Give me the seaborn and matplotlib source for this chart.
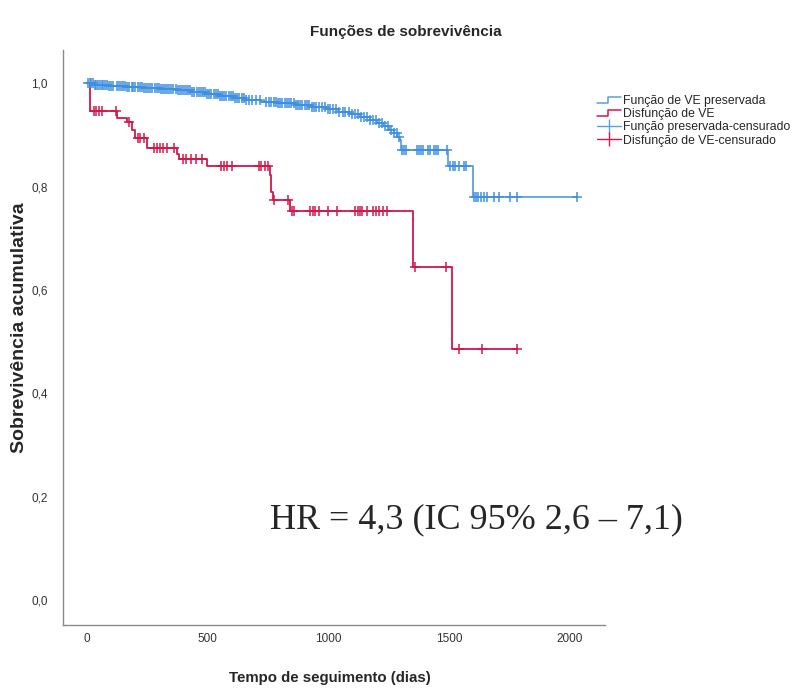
import numpy as np
import pandas as pd
import matplotlib
matplotlib.use("Agg")
import matplotlib.pyplot as plt
import seaborn as sns
from matplotlib.lines import Line2D
from matplotlib.legend_handler import HandlerBase

# ---------------- data ----------------
title = "Funções de sobrevivência"
xlabel = "Tempo de seguimento (dias)"
ylabel = "Sobrevivência acumulativa"
legend_labels = ["Função de VE preservada", "Disfunção de VE",
                 "Função preservada-censurado", "Disfunção de VE-censurado"]
hr_text = "HR = 4,3 (IC 95% 2,6 – 7,1)"

x_ticks = [0, 500, 1000, 1500, 2000]
y_ticks = [0.0, 0.2, 0.4, 0.6, 0.8, 1.0]
y_tick_labels = ["0,0", "0,2", "0,4", "0,6", "0,8", "1,0"]

# preserved LV function: step times and survival after each step
blue_t = [0, 30, 90, 160, 230, 300, 370, 430, 490, 550, 610, 660, 720, 790, 860,
          930, 990, 1040, 1090, 1130, 1170, 1200, 1225, 1250, 1270, 1285, 1295,
          1300, 1495, 1598]
blue_s = [1.0, 0.997, 0.995, 0.993, 0.991, 0.989, 0.986, 0.983, 0.979, 0.975,
          0.971, 0.967, 0.964, 0.961, 0.958, 0.954, 0.950, 0.945, 0.940, 0.935,
          0.929, 0.923, 0.917, 0.910, 0.903, 0.896, 0.889, 0.870, 0.840, 0.780]
blue_cens = [5, 12, 18, 25, 31, 38, 44, 52, 60, 66, 75, 83, 92, 100, 108, 122, 130,
             141, 150, 158, 166, 175, 184, 192, 200, 210, 218, 226, 235, 243, 252,
             262, 270, 279, 288, 296, 305, 314, 322, 331, 340, 348, 357, 366, 375,
             384, 392, 400, 410, 418, 427, 436, 444, 453, 462, 470, 480, 489, 497,
             506, 515, 524, 533, 541, 550, 560, 568, 577, 586, 595, 604, 612, 622,
             630, 640, 650, 660, 672, 684, 700, 716, 742, 752, 763, 772, 781, 790,
             800, 809, 818, 827, 836, 846, 855, 864, 873, 882, 892, 901, 910, 920,
             930, 940, 950, 960, 972, 984, 996, 1008, 1020, 1032, 1045, 1058, 1070,
             1083, 1096, 1110, 1122, 1135, 1148, 1160, 1172, 1185, 1198, 1210, 1222,
             1235, 1248, 1260, 1272, 1284, 1292, 1305, 1312, 1320, 1366, 1375, 1383,
             1391, 1410, 1420, 1435, 1445, 1455, 1490, 1505, 1515, 1525, 1540, 1560,
             1570, 1602, 1610, 1620, 1630, 1645, 1656, 1685, 1705, 1752, 1780, 2030]

# LV dysfunction
red_t = [0, 12, 124, 165, 185, 199, 248, 372, 380, 497, 758, 762, 768, 840, 1350, 1511]
red_s = [1.0, 0.946, 0.932, 0.925, 0.909, 0.894, 0.875, 0.863, 0.854, 0.840,
         0.822, 0.790, 0.774, 0.752, 0.645, 0.485]
red_cens = [28, 38, 48, 62, 120, 172, 210, 220, 235, 275, 290, 300, 315, 330, 360,
            395, 410, 430, 450, 475, 555, 568, 580, 600, 710, 720, 735, 750, 772,
            832, 850, 858, 925, 935, 945, 960, 998, 1035, 1110, 1120, 1130, 1140,
            1158, 1182, 1195, 1210, 1225, 1240, 1358, 1487, 1540, 1636, 1780]

BLUE = "#3f8fe0"
RED = "#d3174a"

# ---------------- figure ----------------
sns.set_style("white")
sans = ["Liberation Sans", "DejaVu Sans"]
plt.rcParams["font.family"] = sans

W, H = 801, 692
fig = plt.figure(figsize=(W / 100, H / 100), dpi=100)
ax = fig.add_axes([63 / W, 1 - 625 / H, (605 - 63) / W, (625 - 50) / H])


def step_frame(t, s, cens):
    t_full = list(t) + [max(cens[-1], t[-1])]
    s_full = list(s) + [s[-1]]
    return pd.DataFrame({"t": t_full, "s": s_full})


def cens_frame(t, s, cens):
    idx = np.searchsorted(np.asarray(t), np.asarray(cens), side="right") - 1
    return pd.DataFrame({"t": cens, "s": np.asarray(s)[idx]})


for t, s, c, col, lw in [(blue_t, blue_s, blue_cens, BLUE, 1.1),
                         (red_t, red_s, red_cens, RED, 1.3)]:
    sns.lineplot(data=step_frame(t, s, c), x="t", y="s", drawstyle="steps-post",
                 estimator=None, sort=False, color=col, linewidth=lw, ax=ax,
                 legend=False)
    sns.scatterplot(data=cens_frame(t, s, c), x="t", y="s", marker="+", s=55,
                    linewidth=1.1, color=col, ax=ax, legend=False, zorder=3)

ax.set_xlim(-100, 2145)
ax.set_ylim(-0.048, 1.064)
ax.set_xticks(x_ticks)
ax.set_xticklabels([str(v) for v in x_ticks])
ax.set_yticks(y_ticks)
ax.set_yticklabels(y_tick_labels)
ax.tick_params(axis="both", length=0, labelsize=8.5, colors="#333333")
ax.tick_params(axis="y", pad=11)
ax.tick_params(axis="x", pad=6)
for side in ["top", "right"]:
    ax.spines[side].set_visible(False)
for side in ["left", "bottom"]:
    ax.spines[side].set_color("#8a8a8a")
    ax.spines[side].set_linewidth(1.0)

ax.set_xlabel(xlabel, fontsize=10.8, fontweight="bold")
ax.xaxis.set_label_coords((330 - 63) / (605 - 63), -(671 - 625) / (625 - 50))
ax.set_ylabel(ylabel, fontsize=14, fontweight="bold")
ax.yaxis.set_label_coords(-(63 - 28) / (605 - 63), (625 - 328) / (625 - 50))

fig.text(406 / W, 1 - 32 / H, title, ha="center", va="center",
         fontsize=11, fontweight="bold")

ax.text(270 / W, 1 - 520 / H, hr_text, transform=fig.transFigure, ha="left",
        va="center", fontsize=26, family=["Liberation Serif", "DejaVu Serif"])


class StepHandler(HandlerBase):
    def create_artists(self, legend, orig_handle, xdescent, ydescent, width,
                       height, fontsize, trans):
        xs = np.array([0, 0.45, 0.45, 1.0]) * width - xdescent
        ys = np.array([0.15, 0.15, 0.85, 0.85]) * height - ydescent
        ln = Line2D(xs, ys, color=orig_handle.get_color(), lw=1.1)
        ln.set_transform(trans)
        return [ln]


h1 = Line2D([], [], color="#5a9fe3")
h2 = Line2D([], [], color=RED)
h3 = Line2D([], [], color="#5a9fe3", marker="|", markersize=10, lw=1.0,
            markeredgewidth=1.0)
h4 = Line2D([], [], color=RED, marker="|", markersize=10, lw=1.0,
            markeredgewidth=1.0)
fig.legend([h1, h2, h3, h4], legend_labels, loc="upper left",
           bbox_to_anchor=(597 / W, 1 - 95 / H), frameon=False, fontsize=8.8,
           handlelength=2.0, handletextpad=0.15, labelspacing=0.1,
           borderpad=0, borderaxespad=0,
           handler_map={h1: StepHandler(), h2: StepHandler()})

fig.savefig("out.png", dpi=100)
